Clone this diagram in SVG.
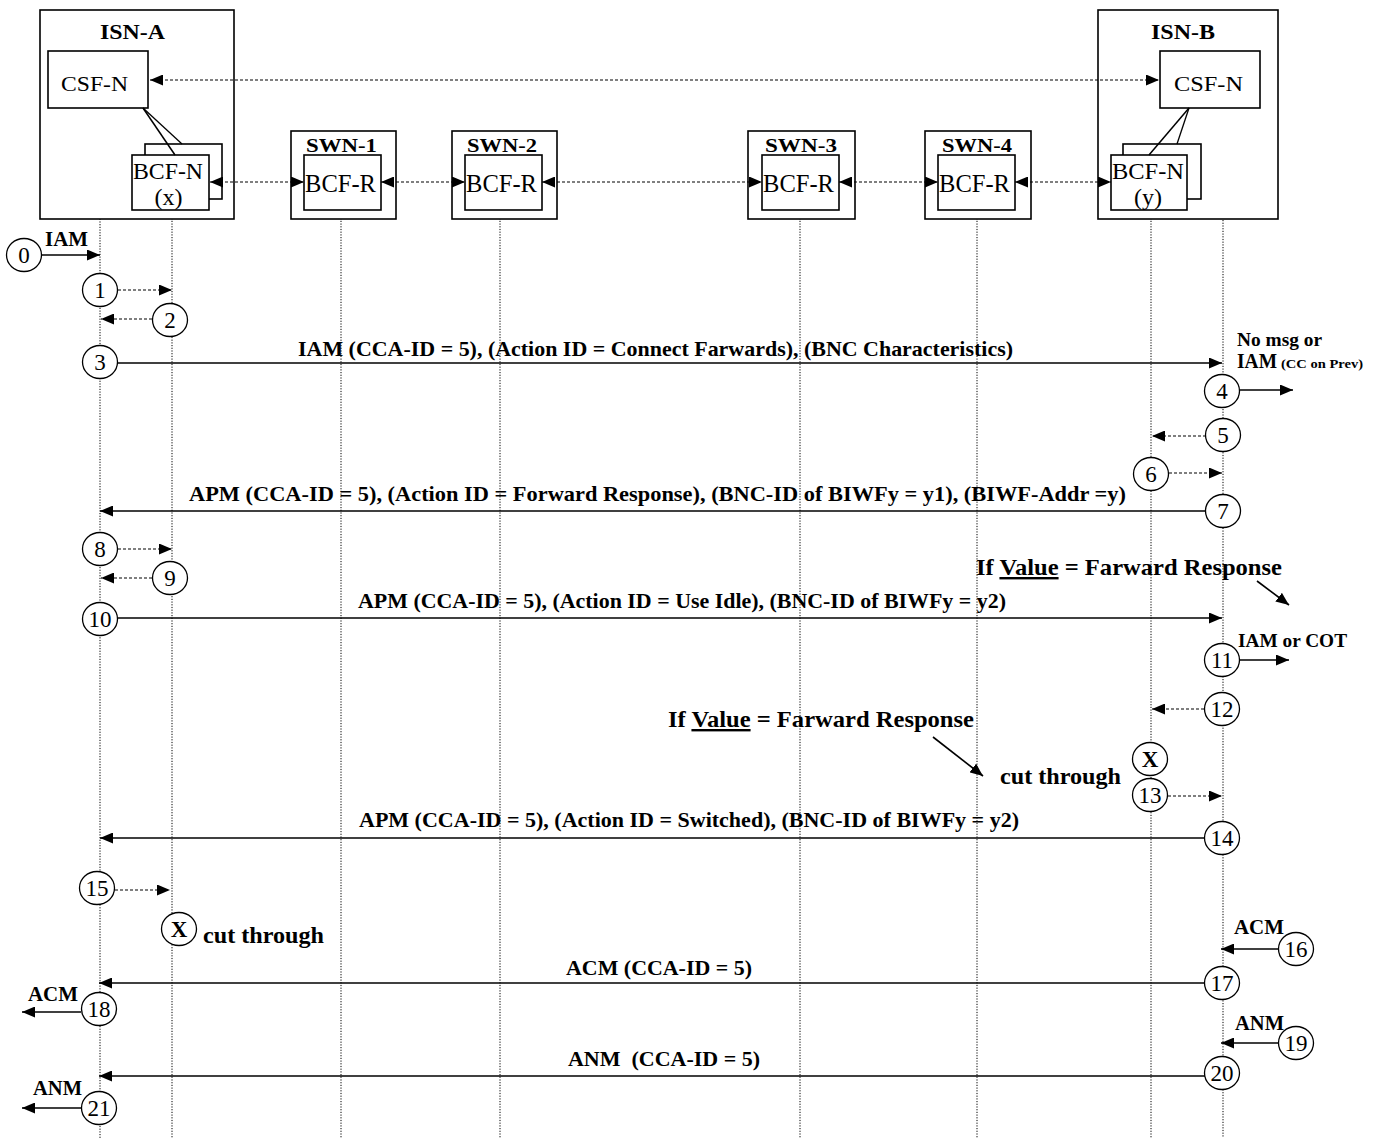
<svg xmlns="http://www.w3.org/2000/svg" width="1380" height="1138" viewBox="0 0 1380 1138">
<style>
text{font-family:"Liberation Serif","Times New Roman",serif;fill:#000}
.b{font-weight:bold}
.box{fill:#fff;stroke:#000;stroke-width:1.6}
.life{stroke:#000;stroke-width:1;stroke-dasharray:1.2 1.5;fill:none}
.sol{stroke:#000;stroke-width:1.6;fill:none;marker-end:url(#ah)}
.dsh{stroke:#000;stroke-width:1.2;stroke-dasharray:3 2;fill:none;marker-end:url(#ah)}
.dbl{stroke:#000;stroke-width:1.2;stroke-dasharray:3 2;fill:none;marker-end:url(#ah);marker-start:url(#ah)}
.c{fill:#fff;stroke:#000;stroke-width:1.3}
.n{font-size:23px;text-anchor:middle}
.lbl{font-size:21px;font-weight:bold}
</style>
<defs>
<marker id="ah" markerUnits="userSpaceOnUse" markerWidth="13" markerHeight="11" refX="13" refY="5.5" orient="auto-start-reverse">
<path d="M0,0 L13,5.5 L0,11 z" fill="#000"/>
</marker>
</defs>

<g id="lifelines">
<line class="life" x1="100" y1="108" x2="100" y2="1138"/>
<line class="life" x1="172" y1="210" x2="172" y2="1138"/>
<line class="life" x1="341" y1="210" x2="341" y2="1138"/>
<line class="life" x1="500" y1="210" x2="500" y2="1138"/>
<line class="life" x1="800" y1="210" x2="800" y2="1138"/>
<line class="life" x1="977" y1="210" x2="977" y2="1138"/>
<line class="life" x1="1151" y1="210" x2="1151" y2="1138"/>
<line class="life" x1="1223" y1="112" x2="1223" y2="1138"/>
</g>

<g id="isn-a">
<rect class="box" x="40" y="10" width="194" height="209"/>
<text class="b" x="100" y="39" font-size="20" textLength="65" lengthAdjust="spacingAndGlyphs">ISN-A</text>
<rect class="box" x="48" y="51" width="100" height="57"/>
<text x="61" y="91" font-size="22" textLength="67" lengthAdjust="spacingAndGlyphs">CSF-N</text>
<rect class="box" x="145" y="144" width="77" height="55"/>
<rect class="box" x="132" y="155" width="77" height="55"/>
<line x1="143" y1="108" x2="175" y2="155" stroke="#000" stroke-width="1.5"/>
<line x1="143" y1="108" x2="182" y2="144" stroke="#000" stroke-width="1.3"/>
<text x="133" y="179" font-size="24" textLength="70" lengthAdjust="spacingAndGlyphs">BCF-N</text>
<text x="168.5" y="205" font-size="24" text-anchor="middle">(x)</text>
</g>

<g id="isn-b">
<rect class="box" x="1098" y="10" width="180" height="209"/>
<text class="b" x="1151" y="39" font-size="20" textLength="64" lengthAdjust="spacingAndGlyphs">ISN-B</text>
<rect class="box" x="1160" y="51" width="100" height="57"/>
<text x="1174" y="91" font-size="22" textLength="69" lengthAdjust="spacingAndGlyphs">CSF-N</text>
<rect class="box" x="1123" y="144" width="78" height="55"/>
<rect class="box" x="1111" y="155" width="76" height="55"/>
<line x1="1189" y1="108" x2="1149" y2="155" stroke="#000" stroke-width="1.5"/>
<line x1="1189" y1="108" x2="1177" y2="144" stroke="#000" stroke-width="1.3"/>
<text x="1112" y="179" font-size="24" textLength="72" lengthAdjust="spacingAndGlyphs">BCF-N</text>
<text x="1148" y="205" font-size="24" text-anchor="middle">(y)</text>
</g>

<g id="swn-1">
<rect class="box" x="291" y="131" width="105" height="88"/>
<text class="b" x="306" y="152" font-size="18" textLength="71" lengthAdjust="spacingAndGlyphs">SWN-1</text>
<rect class="box" x="304" y="155" width="77" height="55"/>
<text x="305" y="192" font-size="25" textLength="71" lengthAdjust="spacingAndGlyphs">BCF-R</text>
</g>
<g id="swn-2">
<rect class="box" x="452" y="131" width="105" height="88"/>
<text class="b" x="467" y="152" font-size="18" textLength="70" lengthAdjust="spacingAndGlyphs">SWN-2</text>
<rect class="box" x="465" y="155" width="77" height="55"/>
<text x="466" y="192" font-size="25" textLength="71" lengthAdjust="spacingAndGlyphs">BCF-R</text>
</g>
<g id="swn-3">
<rect class="box" x="748" y="131" width="107" height="88"/>
<text class="b" x="765" y="152" font-size="18" textLength="72" lengthAdjust="spacingAndGlyphs">SWN-3</text>
<rect class="box" x="762" y="155" width="77" height="55"/>
<text x="763" y="192" font-size="25" textLength="71" lengthAdjust="spacingAndGlyphs">BCF-R</text>
</g>
<g id="swn-4">
<rect class="box" x="925" y="131" width="106" height="88"/>
<text class="b" x="942" y="152" font-size="18" textLength="70" lengthAdjust="spacingAndGlyphs">SWN-4</text>
<rect class="box" x="938" y="155" width="77" height="55"/>
<text x="939" y="192" font-size="25" textLength="71" lengthAdjust="spacingAndGlyphs">BCF-R</text>
</g>

<g id="connectors">
<line class="dbl" x1="150" y1="80" x2="1159" y2="80"/>
<line class="dbl" x1="210" y1="182" x2="304" y2="182"/>
<line class="dbl" x1="381" y1="182" x2="465" y2="182"/>
<line class="dbl" x1="542" y1="182" x2="762" y2="182"/>
<line class="dbl" x1="839" y1="182" x2="938" y2="182"/>
<line class="dbl" x1="1015" y1="182" x2="1111" y2="182"/>

<line class="sol" x1="42" y1="255" x2="100" y2="255"/>
<line class="dsh" x1="118" y1="290" x2="172" y2="290"/>
<line class="dsh" x1="152" y1="319" x2="101" y2="319"/>
<line class="sol" x1="118" y1="363" x2="1222" y2="363"/>
<line class="sol" x1="1240" y1="390" x2="1293" y2="390"/>
<line class="dsh" x1="1206" y1="436" x2="1152" y2="436"/>
<line class="dsh" x1="1169" y1="473" x2="1222" y2="473"/>
<line class="sol" x1="1206" y1="511" x2="100" y2="511"/>
<line class="dsh" x1="118" y1="549" x2="172" y2="549"/>
<line class="dsh" x1="152" y1="578" x2="101" y2="578"/>
<line class="sol" x1="118" y1="618" x2="1222" y2="618"/>
<line class="sol" x1="1240" y1="660" x2="1289" y2="660"/>
<line class="dsh" x1="1204" y1="709" x2="1152" y2="709"/>
<line class="dsh" x1="1168" y1="796" x2="1222" y2="796"/>
<line class="sol" x1="1205" y1="838" x2="100" y2="838"/>
<line class="dsh" x1="115" y1="890" x2="170" y2="890"/>
<line class="sol" x1="1278" y1="949" x2="1221" y2="949"/>
<line class="sol" x1="1205" y1="983" x2="99" y2="983"/>
<line class="sol" x1="81" y1="1012" x2="22" y2="1012"/>
<line class="sol" x1="1279" y1="1043" x2="1221" y2="1043"/>
<line class="sol" x1="1205" y1="1076" x2="99" y2="1076"/>
<line class="sol" x1="81" y1="1108" x2="22" y2="1108"/>
<line class="sol" x1="1257" y1="581" x2="1289" y2="605"/>
<line class="sol" x1="933" y1="737" x2="983" y2="776"/>
</g>

<g id="labels">
<text class="b" x="45" y="246" font-size="20" textLength="43" lengthAdjust="spacingAndGlyphs">IAM</text>
<text class="lbl" x="298" y="356" textLength="715" lengthAdjust="spacingAndGlyphs">IAM (CCA-ID = 5), (Action ID = Connect Farwards), (BNC Characteristics)</text>
<text class="b" x="1237" y="346" font-size="18" textLength="85" lengthAdjust="spacingAndGlyphs">No msg or</text>
<text class="b" x="1237" y="368" font-size="20" textLength="40" lengthAdjust="spacingAndGlyphs">IAM</text>
<text class="b" x="1281" y="368" font-size="13" textLength="82" lengthAdjust="spacingAndGlyphs">(CC on Prev)</text>
<text class="lbl" x="189" y="501" textLength="937" lengthAdjust="spacingAndGlyphs">APM (CCA-ID = 5), (Action ID = Forward Response), (BNC-ID of BIWFy = y1), (BIWF-Addr =y)</text>
<text class="b" x="976" y="575" font-size="24" textLength="306" lengthAdjust="spacingAndGlyphs">If <tspan text-decoration="underline">Value</tspan> = Farward Response</text>
<text class="lbl" x="358" y="608" textLength="648" lengthAdjust="spacingAndGlyphs">APM (CCA-ID = 5), (Action ID = Use Idle), (BNC-ID of BIWFy = y2)</text>
<text class="b" x="1238" y="647" font-size="19" textLength="109" lengthAdjust="spacingAndGlyphs">IAM or COT</text>
<text class="b" x="668" y="727" font-size="24" textLength="306" lengthAdjust="spacingAndGlyphs">If <tspan text-decoration="underline">Value</tspan> = Farward Response</text>
<text class="b" x="1000" y="784" font-size="24" textLength="121" lengthAdjust="spacingAndGlyphs">cut through</text>
<text class="lbl" x="359" y="827" textLength="660" lengthAdjust="spacingAndGlyphs">APM (CCA-ID = 5), (Action ID = Switched), (BNC-ID of BIWFy = y2)</text>
<text class="b" x="203" y="943" font-size="24" textLength="121" lengthAdjust="spacingAndGlyphs">cut through</text>
<text class="b" x="1234" y="934" font-size="20" textLength="50" lengthAdjust="spacingAndGlyphs">ACM</text>
<text class="lbl" x="566" y="975" textLength="186" lengthAdjust="spacingAndGlyphs">ACM (CCA-ID = 5)</text>
<text class="b" x="28" y="1001" font-size="20" textLength="50" lengthAdjust="spacingAndGlyphs">ACM</text>
<text class="b" x="1235" y="1030" font-size="20" textLength="49" lengthAdjust="spacingAndGlyphs">ANM</text>
<text class="lbl" x="568" y="1066" textLength="192" lengthAdjust="spacingAndGlyphs">ANM&#160; (CCA-ID = 5)</text>
<text class="b" x="33" y="1095" font-size="20" textLength="49" lengthAdjust="spacingAndGlyphs">ANM</text>
</g>

<g id="steps">
<g id="s0"><ellipse class="c" cx="24" cy="255" rx="17.5" ry="16.5"/><text class="n" x="24" y="263">0</text></g>
<g id="s1"><ellipse class="c" cx="100" cy="290" rx="17.5" ry="16.5"/><text class="n" x="100" y="298">1</text></g>
<g id="s2"><ellipse class="c" cx="170" cy="320" rx="17.5" ry="16.5"/><text class="n" x="170" y="328">2</text></g>
<g id="s3"><ellipse class="c" cx="100" cy="362" rx="17.5" ry="16.5"/><text class="n" x="100" y="370">3</text></g>
<g id="s4"><ellipse class="c" cx="1222" cy="391" rx="17.5" ry="16.5"/><text class="n" x="1222" y="399">4</text></g>
<g id="s5"><ellipse class="c" cx="1223" cy="435" rx="17.5" ry="16.5"/><text class="n" x="1223" y="443">5</text></g>
<g id="s6"><ellipse class="c" cx="1151" cy="474" rx="17.5" ry="16.5"/><text class="n" x="1151" y="482">6</text></g>
<g id="s7"><ellipse class="c" cx="1223" cy="511" rx="17.5" ry="16.5"/><text class="n" x="1223" y="519">7</text></g>
<g id="s8"><ellipse class="c" cx="100" cy="549" rx="17.5" ry="16.5"/><text class="n" x="100" y="557">8</text></g>
<g id="s9"><ellipse class="c" cx="170" cy="578" rx="17.5" ry="16.5"/><text class="n" x="170" y="586">9</text></g>
<g id="s10"><ellipse class="c" cx="100" cy="619" rx="17.5" ry="16.5"/><text class="n" x="100" y="627">10</text></g>
<g id="s11"><ellipse class="c" cx="1222" cy="660" rx="17.5" ry="16.5"/><text class="n" x="1222" y="668">11</text></g>
<g id="s12"><ellipse class="c" cx="1222" cy="709" rx="17.5" ry="16.5"/><text class="n" x="1222" y="717">12</text></g>
<g id="x1"><ellipse class="c" cx="1150" cy="759" rx="17.5" ry="16.5"/><text class="n b" x="1150" y="767">X</text></g>
<g id="s13"><ellipse class="c" cx="1150" cy="795" rx="17.5" ry="16.5"/><text class="n" x="1150" y="803">13</text></g>
<g id="s14"><ellipse class="c" cx="1222" cy="838" rx="17.5" ry="16.5"/><text class="n" x="1222" y="846">14</text></g>
<g id="s15"><ellipse class="c" cx="97" cy="888" rx="17.5" ry="16.5"/><text class="n" x="97" y="896">15</text></g>
<g id="x2"><ellipse class="c" cx="179" cy="929" rx="17.5" ry="16.5"/><text class="n b" x="179" y="937">X</text></g>
<g id="s16"><ellipse class="c" cx="1296" cy="949" rx="17.5" ry="16.5"/><text class="n" x="1296" y="957">16</text></g>
<g id="s17"><ellipse class="c" cx="1222" cy="983" rx="17.5" ry="16.5"/><text class="n" x="1222" y="991">17</text></g>
<g id="s18"><ellipse class="c" cx="99" cy="1009" rx="17.5" ry="16.5"/><text class="n" x="99" y="1017">18</text></g>
<g id="s19"><ellipse class="c" cx="1296" cy="1043" rx="17.5" ry="16.5"/><text class="n" x="1296" y="1051">19</text></g>
<g id="s20"><ellipse class="c" cx="1222" cy="1073" rx="17.5" ry="16.5"/><text class="n" x="1222" y="1081">20</text></g>
<g id="s21"><ellipse class="c" cx="99" cy="1108" rx="17.5" ry="16.5"/><text class="n" x="99" y="1116">21</text></g>
</g>
</svg>
